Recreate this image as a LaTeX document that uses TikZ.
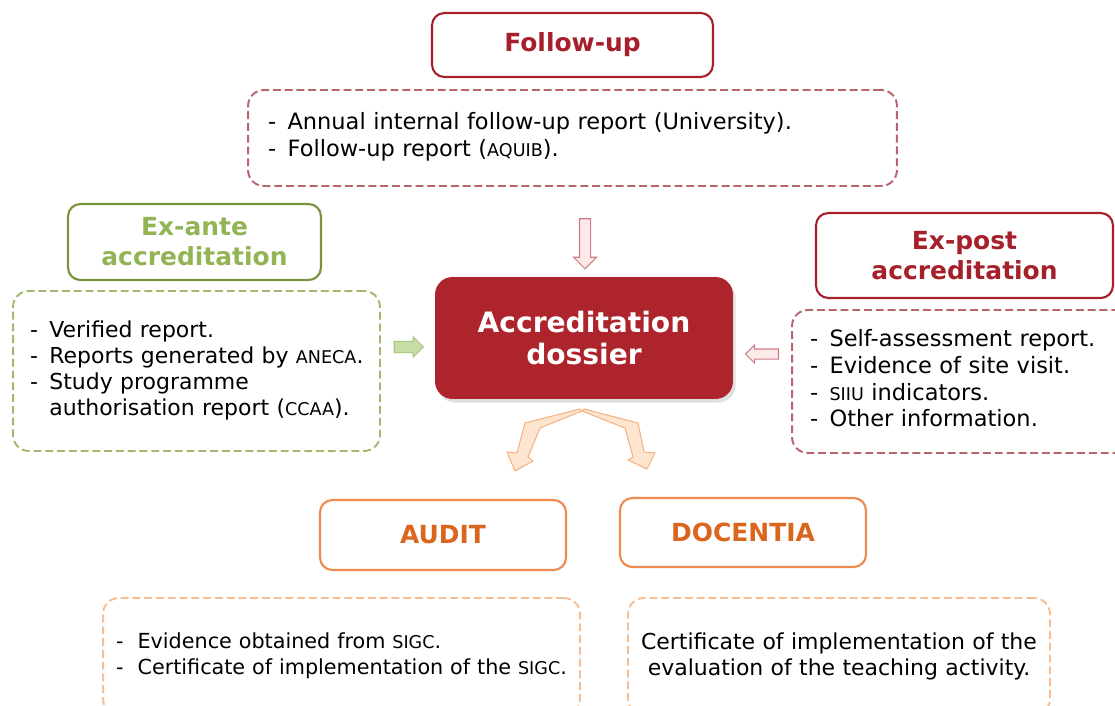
\documentclass[tikz,border=0pt]{standalone}
\usepackage{fontspec}
\setmainfont{DejaVu Sans}
\usetikzlibrary{shapes.arrows,shadows}

\definecolor{dossred}{RGB}{173,36,45}
\definecolor{titred}{RGB}{165,32,42}
\definecolor{listred}{RGB}{184,100,108}
\definecolor{pinkfill}{RGB}{252,234,234}
\definecolor{pinkline}{RGB}{205,125,130}
\definecolor{oliveline}{RGB}{119,147,60}
\definecolor{olivetext}{RGB}{146,180,84}
\definecolor{olivelist}{RGB}{160,185,110}
\definecolor{greenfill}{RGB}{200,222,168}
\definecolor{greenline}{RGB}{172,200,132}
\definecolor{orline}{RGB}{238,138,78}
\definecolor{ortext}{RGB}{218,102,30}
\definecolor{orlist}{RGB}{248,190,145}
\definecolor{orfill}{RGB}{253,229,207}
\definecolor{orarrow}{RGB}{246,178,130}

% smaller capitals for the acronyms
\newcommand{\acro}[1]{{\fontsize{10}{12}\selectfont #1}}

\begin{document}
\begin{tikzpicture}[x=0.02cm,y=-0.02cm]
    \tikzset{titlebox/.style={draw, line width=1.2pt, rounded corners=7pt,
            align=center, inner sep=0pt,
            font=\fontsize{14.2}{17}\selectfont\bfseries},
        listbox/.style={draw, line width=1.1pt, dash pattern=on 4.5pt off 2.2pt,
            rounded corners=9pt, align=left,
            font=\fontsize{12.5}{14.8}\selectfont},
        pinkarrow/.style={single arrow, draw=pinkline, fill=pinkfill,
            line width=0.6pt},
        bentarrow/.style={draw=orarrow, fill=orfill, line width=0.6pt,
            line join=round}}
    \clip (0,0) rectangle (1115,706);

    % follow-up
    \node[titlebox, draw=titred, text=titred, minimum width=5.62cm,
        minimum height=1.28cm] (FU) at (572.5,45) {Follow-up};
    \node[listbox, draw=listred, minimum width=12.98cm, minimum height=1.92cm,
        text width=12.18cm, inner xsep=0.4cm, font=\fontsize{12.8}{15.2}\selectfont]
        (FUlist) at (572.5,138) {%
        \begin{tabular}{@{}l@{\hspace{6.5pt}}l@{}}
            - & Annual internal follow-up report (University).\\
            - & Follow-up report (\acro{AQUIB}).
        \end{tabular}};

    % ex-ante
    \node[titlebox, draw=oliveline, text=olivetext, minimum width=5.06cm,
        minimum height=1.52cm] (EA) at (194.5,242) {Ex-ante\\accreditation};
    \node[listbox, draw=olivelist, minimum width=7.34cm, minimum height=3.2cm,
        text width=6.66cm, inner xsep=0.34cm] (EAlist) at (196.5,371) {%
        \begin{tabular}{@{}l@{\hspace{6.5pt}}l@{}}
            - & Verified report.\\
            - & Reports generated by \acro{ANECA}.\\
            - & Study programme\\
              & authorisation report (\acro{CCAA}).
        \end{tabular}};

    % central box
    \node[fill=dossred, text=white, rounded corners=10pt, align=center,
        minimum width=5.96cm, minimum height=2.44cm,
        drop shadow={opacity=0.25, shadow xshift=1.5pt, shadow yshift=-2pt},
        font=\fontsize{16}{18.1}\selectfont\bfseries] (DOS) at (584,338)
        {Accreditation\\dossier};

    % ex-post
    \node[titlebox, draw=titred, text=titred, minimum width=5.94cm,
        minimum height=1.7cm] (EP) at (964.5,255.5) {Ex-post\\accreditation};
    \node[listbox, draw=listred, minimum width=6.86cm, minimum height=2.86cm,
        text width=6.14cm, inner xsep=0.36cm, font=\fontsize{12.8}{15.2}\selectfont]
        (EPlist) at (963.5,381.5) {%
        \begin{tabular}{@{}l@{\hspace{6.5pt}}l@{}}
            - & Self-assessment report.\\
            - & Evidence of site visit.\\
            - & \acro{SIIU} indicators.\\
            - & Other information.
        \end{tabular}};

    % audit and docentia
    \node[titlebox, draw=orline, text=ortext, minimum width=4.92cm,
        minimum height=1.4cm] (AU) at (443,535) {AUDIT};
    \node[titlebox, draw=orline, text=ortext, minimum width=4.92cm,
        minimum height=1.38cm] (DC) at (743,532.5) {DOCENTIA};
    \node[listbox, draw=orlist, minimum width=9.54cm, minimum height=2.34cm,
        text width=9.02cm, inner xsep=0.26cm, font=\fontsize{11.8}{15}\selectfont]
        (AUlist) at (341.5,656.5) {%
        \begin{tabular}{@{}l@{\hspace{8pt}}l@{}}
            - & Evidence obtained from \acro{SIGC}.\\
            - & Certificate of implementation of the \acro{SIGC}.
        \end{tabular}};
    \node[listbox, draw=orlist, align=center, minimum width=8.44cm,
        minimum height=2.34cm, text width=8.04cm, inner xsep=0.2cm]
        (DClist) at (839,656.5)
        {Certificate of implementation of the\\
        evaluation of the teaching activity.};

    % block arrows into the dossier
    \node[pinkarrow, shape border rotate=270, minimum height=1cm,
        inner xsep=0.1cm, inner ysep=0pt, single arrow head extend=0.12cm]
        (FUarrow) at (585,241) {};
    \node[single arrow, draw=greenline, fill=greenfill, line width=0.6pt,
        inner xsep=0pt, minimum height=0.58cm, inner ysep=0.1cm,
        single arrow head extend=0.09cm] (EAarrow) at (406,347) {};
    \node[pinkarrow, shape border rotate=180, minimum height=0.66cm,
        inner xsep=0pt, inner ysep=0.09cm, single arrow head extend=0.08cm]
        (EParrow) at (764.5,354) {};

    % bent arrows out of the dossier
    \filldraw[bentarrow] (580,409) -- (525,423) -- (517,453) -- (507,452)
        -- (515,471) -- (533,461) -- (528,457) -- (540,428) -- (582,411) -- cycle;
    \filldraw[bentarrow] (584,409) -- (638,423) -- (644,452) -- (655,453)
        -- (647,469) -- (628,460) -- (633,457) -- (625,428) -- (582,411) -- cycle;
\end{tikzpicture}
\end{document}
